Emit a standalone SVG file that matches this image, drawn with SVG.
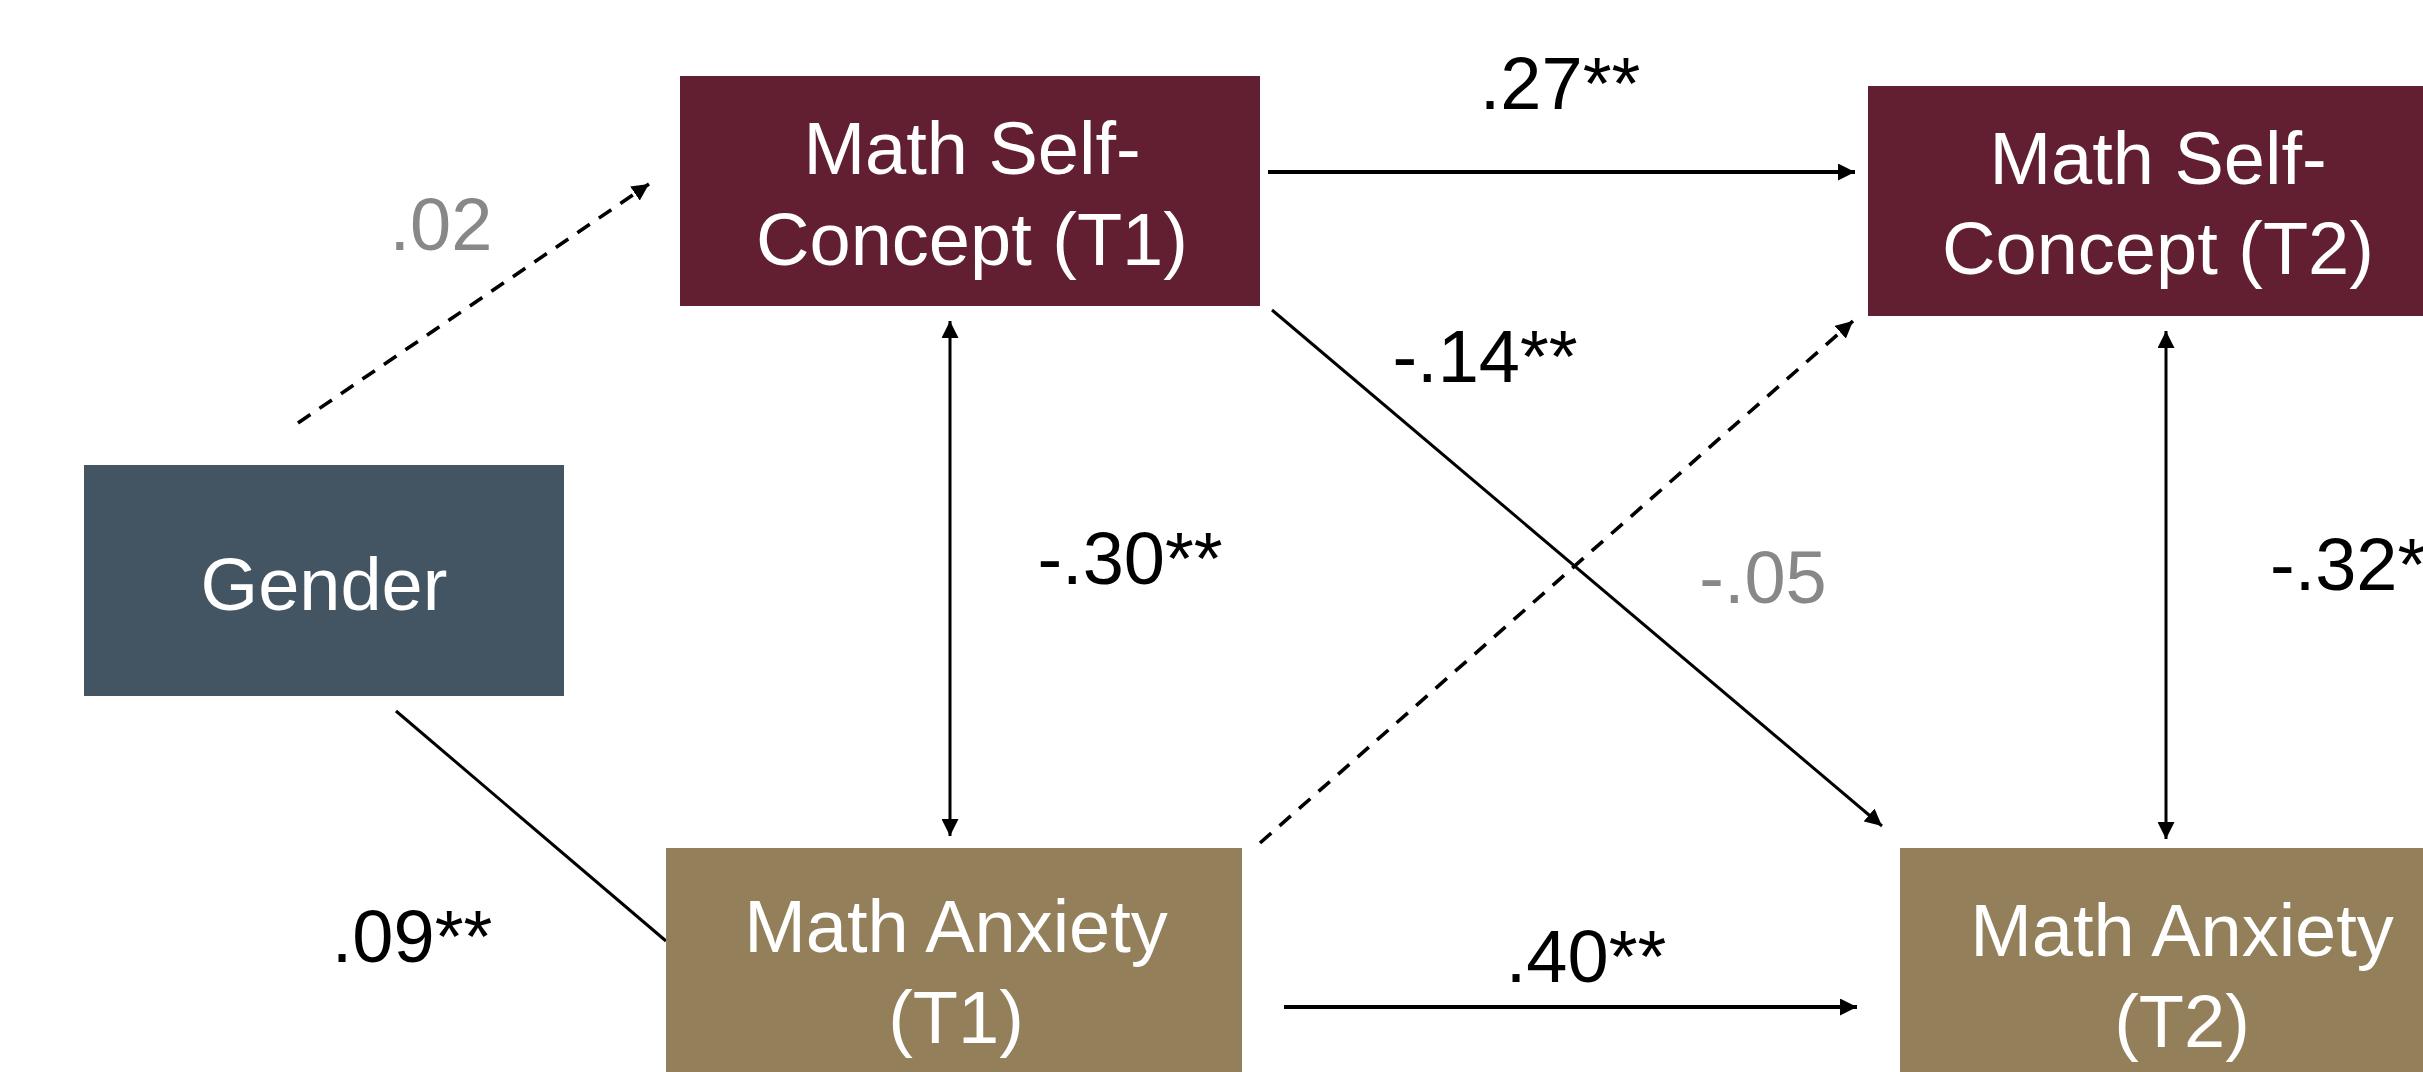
<svg xmlns="http://www.w3.org/2000/svg" width="2423" height="1072" viewBox="0 0 2423 1072">
  <style>
    text { font-family: "Liberation Sans", Arial, sans-serif; font-size: 74px; text-anchor: middle; }
    .nl { fill: #ffffff; }
    .lbl { fill: #000000; }
    .ns { fill: #888888; }
    .msc { fill: #611F31; }
    .gen { fill: #435563; }
    .ma { fill: #937F5A; }
    .c { stroke: #000000; fill: none; stroke-width: 3; }
    .thick { stroke-width: 4; }
    .dash { stroke-dasharray: 15 11; stroke-width: 3.6; }
  </style>
  <defs>
    <marker id="ah" markerUnits="userSpaceOnUse" markerWidth="19" markerHeight="17" refX="17" refY="8.5" orient="auto-start-reverse" viewBox="0 0 19 17">
      <path d="M0,0 L17,8.5 L0,17 Z" fill="#000000"/>
    </marker>
  </defs>
  <rect width="2423" height="1072" fill="#ffffff"/>

  <g id="connectors">
    <line class="c dash" x1="298" y1="423" x2="649" y2="184" marker-end="url(#ah)"/>
    <line class="c thick" x1="1268" y1="172" x2="1855" y2="172" marker-end="url(#ah)"/>
    <line class="c" x1="1272" y1="310" x2="1882" y2="826" marker-end="url(#ah)"/>
    <line class="c dash" x1="1260" y1="843" x2="1853" y2="321" marker-end="url(#ah)"/>
    <line class="c" x1="950" y1="321" x2="950" y2="836" marker-start="url(#ah)" marker-end="url(#ah)"/>
    <line class="c" x1="396" y1="711" x2="666" y2="941"/>
    <line class="c thick" x1="1284" y1="1007" x2="1857" y2="1007" marker-end="url(#ah)"/>
    <line class="c" x1="2166" y1="331" x2="2166" y2="839" marker-start="url(#ah)" marker-end="url(#ah)"/>
  </g>

  <g id="labels">
    <text class="ns" x="441" y="250">.02</text>
    <text class="lbl" x="1560" y="109">.27**</text>
    <text class="lbl" x="1485" y="382">-.14**</text>
    <text class="lbl" x="1130" y="584">-.30**</text>
    <text class="ns" x="1763" y="603">-.05</text>
    <text class="lbl" x="2270" y="590" style="text-anchor:start">-.32**</text>
    <text class="lbl" x="412" y="962">.09**</text>
    <text class="lbl" x="1586" y="982">.40**</text>
  </g>

  <g id="gender">
    <rect class="gen" x="84" y="465" width="480" height="231"/>
    <text class="nl" x="324" y="610">Gender</text>
  </g>

  <g id="msc-t1">
    <rect class="msc" x="680" y="76" width="580" height="230"/>
    <text class="nl" x="972" y="174">Math Self-</text>
    <text class="nl" x="972" y="265">Concept (T1)</text>
  </g>

  <g id="msc-t2">
    <rect class="msc" x="1868" y="86" width="580" height="230"/>
    <text class="nl" x="2158" y="184">Math Self-</text>
    <text class="nl" x="2158" y="274">Concept (T2)</text>
  </g>

  <g id="ma-t1">
    <rect class="ma" x="666" y="848" width="576" height="230"/>
    <text class="nl" x="956" y="952">Math Anxiety</text>
    <text class="nl" x="956" y="1043">(T1)</text>
  </g>

  <g id="ma-t2">
    <rect class="ma" x="1900" y="848" width="576" height="230"/>
    <text class="nl" x="2182" y="956">Math Anxiety</text>
    <text class="nl" x="2182" y="1047">(T2)</text>
  </g>
</svg>
